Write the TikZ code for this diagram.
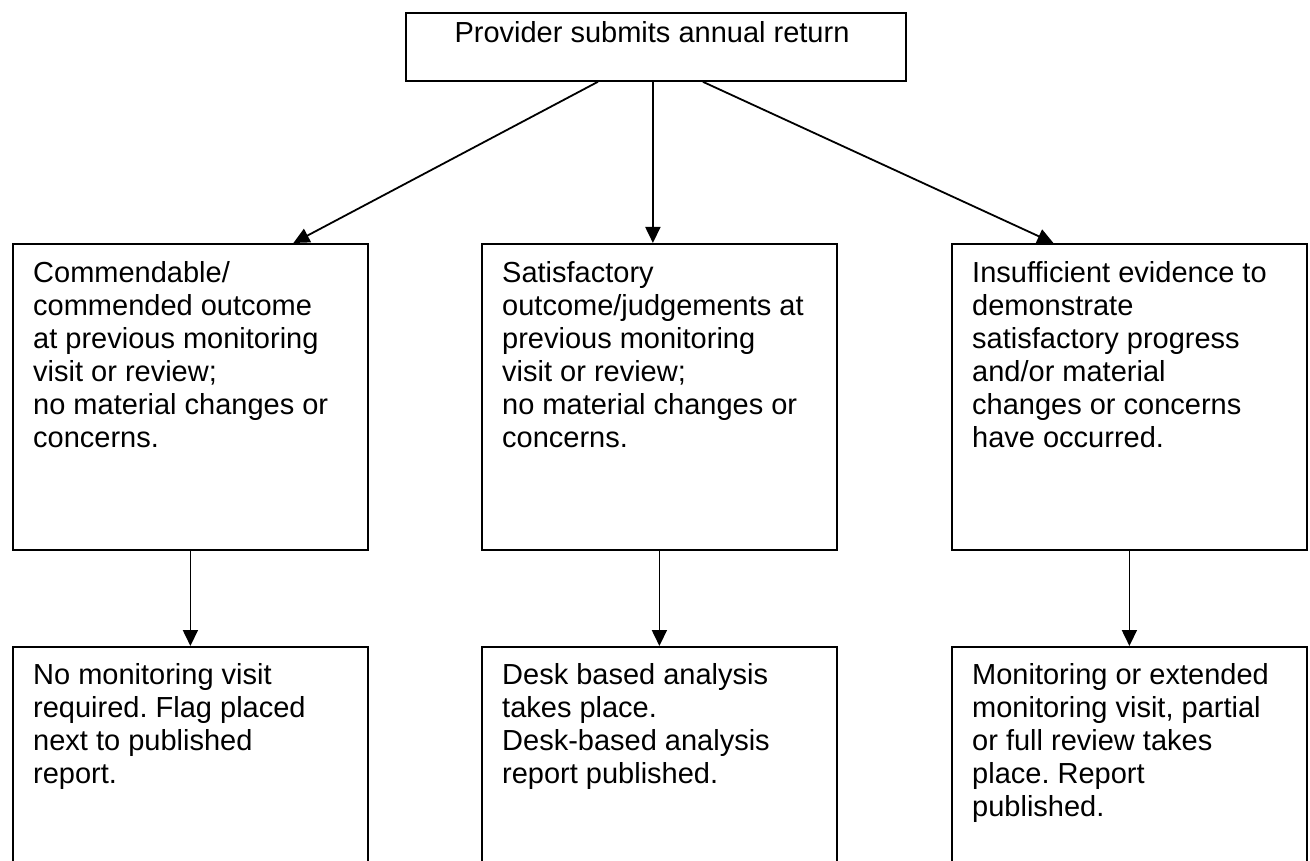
\documentclass[tikz,border=0pt]{standalone}
\usepackage{fontspec}
\setmainfont{Liberation Sans}
\usetikzlibrary{arrows.meta}
\frenchspacing

\begin{document}
\begin{tikzpicture}[x=1pt, y=1pt,
    box/.style={draw, line width=1.8pt, rectangle, inner sep=0pt, anchor=north west, minimum width=355pt},
    txt/.style={anchor=north west, inner sep=0pt, align=left, font=\fontsize{29}{33}\selectfont},
    arr/.style={line width=1.8pt, -{Triangle[length=16pt, width=15pt]}}]
    \useasboundingbox (0,0) rectangle (1310,-861);
    \clip (0,0) rectangle (1310,-861);

    % Define nodes for the diagram
    \node[box, minimum width=500pt, minimum height=68pt] (submit) at (405,-12) {};
    \node[txt, anchor=base] (submit-txt) at (652,-43) {Provider submits annual return};

    \node[box, minimum height=306pt] (commend) at (12,-243) {};
    \node[box, minimum height=306pt] (satisf) at (481,-243) {};
    \node[box, minimum height=306pt] (insuff) at (951,-243) {};

    \node[box, minimum height=240pt] (nomon) at (12,-646) {};
    \node[box, minimum height=240pt] (desk) at (481,-646) {};
    \node[box, minimum height=240pt] (review) at (951,-646) {};

    % Texts of the boxes
    \node[txt] (commend-txt) at ([shift={(21,-16)}]commend.north west)
        {\strut Commendable/\\commended outcome\\at previous monitoring\\visit or review;\\no material changes or\\concerns.};
    \node[txt] (satisf-txt) at ([shift={(21,-16)}]satisf.north west)
        {\strut Satisfactory\\outcome/judgements at\\previous monitoring\\visit or review;\\no material changes or\\concerns.};
    \node[txt] (insuff-txt) at ([shift={(21,-16)}]insuff.north west)
        {\strut Insufficient evidence to\\demonstrate\\satisfactory progress\\and/or material\\changes or concerns\\have occurred.};

    \node[txt] (nomon-txt) at ([shift={(21,-15)}]nomon.north west)
        {\strut No monitoring visit\\required. Flag placed\\next to published\\report.};
    \node[txt] (desk-txt) at ([shift={(21,-15)}]desk.north west)
        {\strut Desk based analysis\\takes place.\\Desk-based analysis\\report published.};
    \node[txt] (review-txt) at ([shift={(21,-15)}]review.north west)
        {\strut Monitoring or extended\\monitoring visit, partial\\or full review takes\\place. Report\\published.};

    % Draw the connections
    \draw[arr] ([xshift=-58pt]submit.south) -- ([xshift=103pt]commend.north);
    \draw[arr] ([xshift=-3pt]submit.south) -- ([xshift=-3pt]submit.south |- satisf.north);
    \draw[arr] ([xshift=47pt]submit.south) -- ([xshift=-76pt]insuff.north);

    \draw[arr] (commend.south) -- (nomon.north);
    \draw[arr] (satisf.south) -- (desk.north);
    \draw[arr] (insuff.south) -- (review.north);
\end{tikzpicture}
\end{document}
